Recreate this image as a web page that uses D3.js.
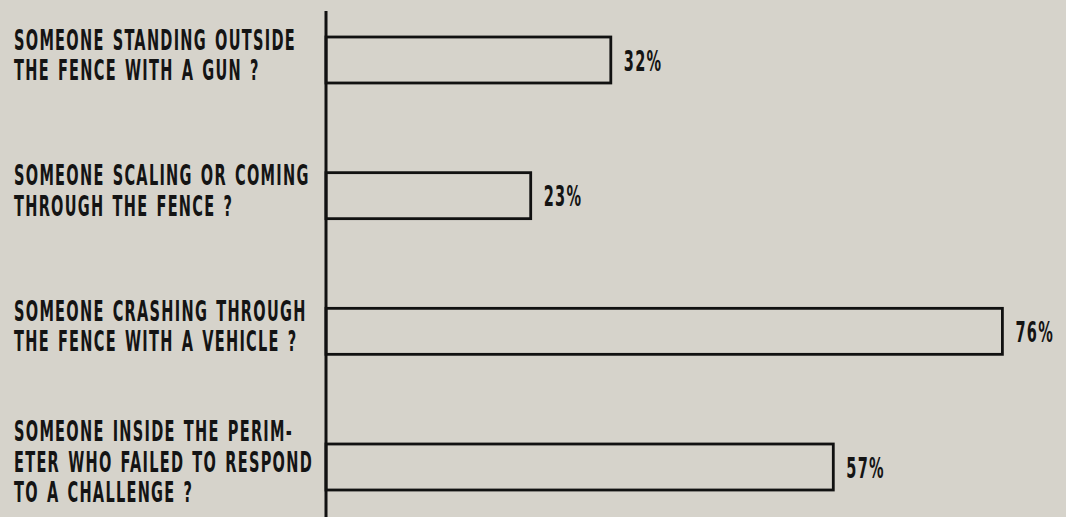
<!DOCTYPE html>
<html>
<head>
<meta charset="utf-8">
<script src="https://cdn.jsdelivr.net/npm/d3@7"></script>
<style>
  html, body { margin: 0; padding: 0; background: #d6d3cb; }
  svg { display: block; }
  .label { font-family: "Liberation Sans Narrow", "DejaVu Sans Condensed", "Liberation Sans", sans-serif; font-weight: bold; fill: #141414; font-size: 28px; letter-spacing: 2.2px; word-spacing: 3px; }
</style>
</head>
<body>
<div id="chart"></div>
<script>
// questions (each one split into its printed lines)
const questions = [
  ['SOMEONE STANDING OUTSIDE', 'THE FENCE WITH A GUN ?'],
  ['SOMEONE SCALING OR COMING', 'THROUGH THE FENCE ?'],
  ['SOMEONE CRASHING THROUGH', 'THE FENCE WITH A VEHICLE ?'],
  ['SOMEONE INSIDE THE PERIM-', 'ETER WHO FAILED TO RESPOND', 'TO A CHALLENGE ?']
];
const percents = [32, 23, 76, 57];

const width = 1066;
const height = 517;

const svg = d3.select('#chart')
  .append('svg')
  .attr('width', width)
  .attr('height', height);

const xScale = d3.scaleLinear().domain([0, 100]).range([326, 1216]);

const yScale = d3.scaleBand()
  .domain(d3.range(questions.length))
  .range([37, 490])
  .paddingInner(0.661)
  .paddingOuter(0);

// vertical axis line
const axisTop = yScale.range()[0] - 26;
svg.append('line')
  .attr('x1', xScale(0)).attr('x2', xScale(0))
  .attr('y1', axisTop).attr('y2', height)
  .attr('stroke', '#111')
  .attr('stroke-width', 3);

// outlined bars
svg.append('g')
  .selectAll('rect')
  .data(percents)
  .join('rect')
  .attr('x', xScale(0))
  .attr('y', (d, i) => yScale(i))
  .attr('width', (d) => xScale(d) - xScale(0))
  .attr('height', yScale.bandwidth())
  .attr('fill', 'none')
  .attr('stroke', '#111')
  .attr('stroke-width', 2.8);

// figure out the horizontal squeeze so the type looks condensed
const probe = svg.append('text')
  .attr('class', 'label')
  .text(questions[0][0]);
const squeeze = 282 / probe.node().getComputedTextLength();
probe.remove();

const lineGap = 30.5;

// question labels
questions.forEach((lines, i) => {
  const cy = yScale(i) + yScale.bandwidth() / 2 - 5;
  const startY = cy - ((lines.length - 1) * lineGap) / 2;
  lines.forEach((line, j) => {
    svg.append('text')
      .attr('class', 'label')
      .attr('dy', '0.35em')
      .attr('transform', `translate(14, ${startY + j * lineGap}) scale(${squeeze}, 1)`)
      .text(line);
  });
});

// percent labels
percents.forEach((p, i) => {
  const cy = yScale(i) + yScale.bandwidth() / 2 + 1;
  svg.append('text')
    .attr('class', 'label')
    .attr('dy', '0.35em')
    .attr('transform', `translate(${xScale(p) + 13}, ${cy}) scale(${squeeze}, 1)`)
    .text(p + '%');
});
</script>
</body>
</html>
